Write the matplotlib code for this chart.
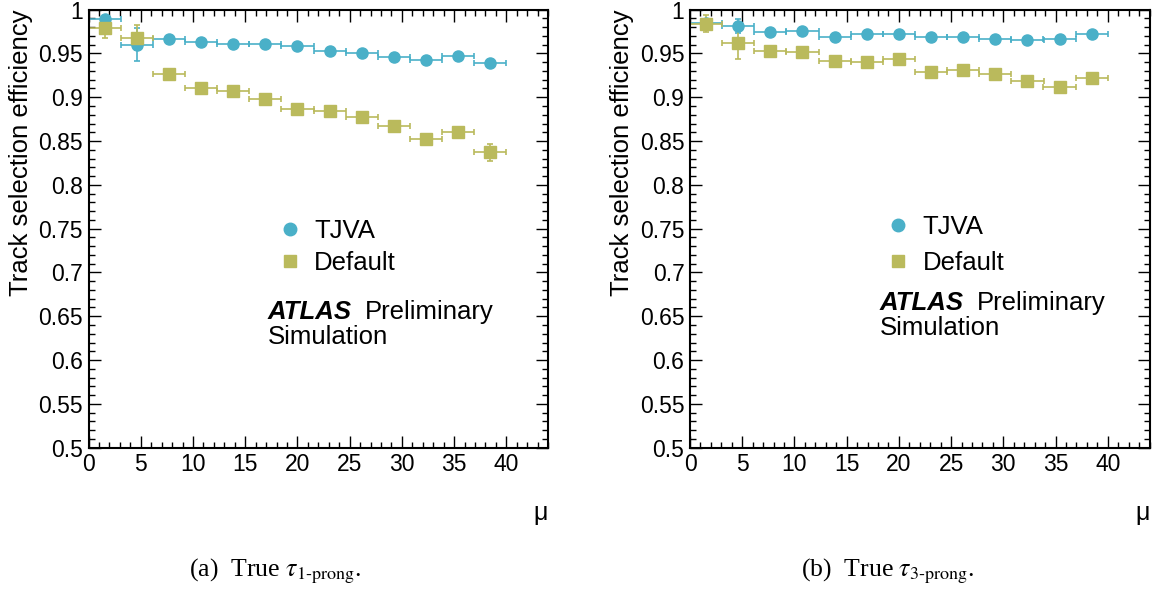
import matplotlib
matplotlib.use("Agg")
import matplotlib.pyplot as plt
from matplotlib.lines import Line2D
from matplotlib.ticker import MultipleLocator, FuncFormatter

plt.rcParams['font.family'] = ['Liberation Sans', 'DejaVu Sans']
plt.rcParams['mathtext.fontset'] = 'stix'

# bin centres in mu and half bin width
mu = [1.54, 4.62, 7.69, 10.77, 13.85, 16.92, 20.0, 23.08, 26.15, 29.23, 32.31, 35.38, 38.46]
mu_halfwidth = 1.54

# (a) true 1-prong
tjva_1p = [0.989, 0.960, 0.967, 0.963, 0.961, 0.961, 0.959, 0.953, 0.950, 0.946, 0.942, 0.947, 0.939]
tjva_1p_err = [0.002, 0.019, 0.002, 0.002, 0.002, 0.002, 0.002, 0.002, 0.002, 0.002, 0.002, 0.002, 0.003]
default_1p = [0.979, 0.968, 0.927, 0.910, 0.907, 0.8975, 0.887, 0.884, 0.877, 0.867, 0.852, 0.860, 0.837]
default_1p_err = [0.011, 0.014, 0.002, 0.002, 0.002, 0.002, 0.002, 0.002, 0.003, 0.003, 0.003, 0.003, 0.010]

# (b) true 3-prong
tjva_3p = [0.985, 0.9815, 0.974, 0.9755, 0.969, 0.9727, 0.9723, 0.9692, 0.9692, 0.967, 0.965, 0.967, 0.972]
tjva_3p_err = [0.004, 0.008, 0.002, 0.002, 0.002, 0.002, 0.002, 0.002, 0.002, 0.002, 0.002, 0.002, 0.003]
default_3p = [0.984, 0.962, 0.953, 0.9515, 0.9415, 0.940, 0.944, 0.929, 0.931, 0.926, 0.919, 0.912, 0.922]
default_3p_err = [0.010, 0.018, 0.003, 0.003, 0.003, 0.003, 0.003, 0.003, 0.003, 0.003, 0.003, 0.003, 0.006]

captions = [r'(a)  True $\tau_{\text{1-prong}}$.', r'(b)  True $\tau_{\text{3-prong}}$.']

c_tjva = '#4ab0c8'
c_def = '#baba5c'

fig = plt.figure(figsize=(11.56, 5.89), dpi=100)
ax1 = fig.add_axes([0.0766, 0.240, 0.3975, 0.7436])
ax2 = fig.add_axes([0.5969, 0.240, 0.3975, 0.7436])

# axes, data, legend anchor, legend row spacing, ATLAS label anchor, caption x
panels = [
    (ax1, tjva_1p, tjva_1p_err, default_1p, default_1p_err, (0.41, 0.458), 0.33, (0.39, 0.309), 0.238),
    (ax2, tjva_3p, tjva_3p_err, default_3p, default_3p_err, (0.425, 0.462), 0.46, (0.412, 0.33), 0.768),
]

for i, (ax, tj, tj_e, df, df_e, leg_pos, leg_sp, atlas_pos, cap_x) in enumerate(panels):
    ax.errorbar(mu, tj, xerr=mu_halfwidth, yerr=tj_e, fmt='o', color=c_tjva,
                ms=8, lw=1.2, capsize=2, capthick=1.2)
    ax.errorbar(mu, df, xerr=mu_halfwidth, yerr=df_e, fmt='s', color=c_def,
                ms=8, lw=1.2, capsize=2, capthick=1.2)

    ax.set_xlim(0, 44)
    ax.set_ylim(0.5, 1.0)
    ax.xaxis.set_major_locator(MultipleLocator(5))
    ax.xaxis.set_minor_locator(MultipleLocator(1))
    ax.yaxis.set_major_locator(MultipleLocator(0.05))
    ax.yaxis.set_minor_locator(MultipleLocator(0.01))
    ax.yaxis.set_major_formatter(FuncFormatter(lambda v, p: ('%.2f' % v).rstrip('0').rstrip('.')))
    ax.tick_params(which='both', direction='in', top=True, right=True, width=1)
    ax.tick_params(which='major', length=8.5, labelsize=16.5, pad=4)
    ax.tick_params(which='minor', length=4.3)
    for s in ax.spines.values():
        s.set_linewidth(1.5)

    ax.set_ylabel('Track selection efficiency', fontsize=18.5, loc='top')
    ax.yaxis.set_label_coords(-0.121, 1.0)
    ax.set_xlabel('μ', fontsize=18, loc='right', labelpad=18)

    handles = [Line2D([], [], ls='none', marker='o', ms=9, color=c_tjva),
               Line2D([], [], ls='none', marker='s', ms=9, color=c_def)]
    ax.legend(handles, ['TJVA', 'Default'], loc='center left', bbox_to_anchor=leg_pos,
              frameon=False, fontsize=18.5, handlelength=1.0, handletextpad=0.45,
              labelspacing=leg_sp, borderpad=0, borderaxespad=0)

    ax.text(atlas_pos[0], atlas_pos[1], 'ATLAS', transform=ax.transAxes, fontsize=18.5,
            fontweight='bold', fontstyle='italic', va='center', ha='left')
    ax.text(atlas_pos[0] + 0.212, atlas_pos[1], 'Preliminary', transform=ax.transAxes,
            fontsize=18.5, va='center', ha='left')
    ax.text(atlas_pos[0], atlas_pos[1] - 0.057, 'Simulation', transform=ax.transAxes,
            fontsize=18.5, va='center', ha='left')

    fig.text(cap_x, 0.03, captions[i], fontsize=18.5, family='Liberation Serif',
             ha='center', va='center')

fig.savefig('out.png', dpi=100)
